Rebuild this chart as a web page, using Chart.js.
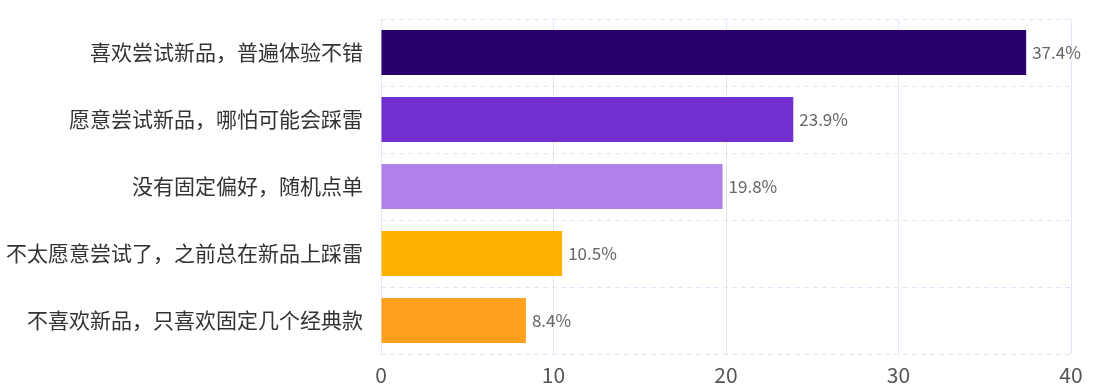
<!DOCTYPE html>
<html>
<head>
<meta charset="utf-8">
<script src="https://cdn.jsdelivr.net/npm/chart.js@4"></script>
<style>
  html, body { margin: 0; padding: 0; background: #fff; }
  #wrap { width: 1112px; height: 390px; }
</style>
</head>
<body>
<div id="wrap"><canvas id="barChart"></canvas></div>
<script>
// datos
const categorias = [
  '喜欢尝试新品，普遍体验不错',
  '愿意尝试新品，哪怕可能会踩雷',
  '没有固定偏好，随机点单',
  '不太愿意尝试了，之前总在新品上踩雷',
  '不喜欢新品，只喜欢固定几个经典款'
];
const porcentajes = [37.4, 23.9, 19.8, 10.5, 8.4];
const colores = ['#27006e', '#722ecf', '#b181ea', '#ffb200', '#ffa01f'];
const ticksX = [0, 10, 20, 30, 40];

const fuente = '"Noto Sans CJK SC", "Microsoft YaHei", sans-serif';

// etiquetas al final de cada barra
const etiquetas = {
  id: 'etiquetas',
  afterDatasetsDraw(chart) {
    const ctx = chart.ctx;
    const meta = chart.getDatasetMeta(0);
    ctx.save();
    ctx.font = '17px ' + fuente;
    ctx.fillStyle = '#666';
    ctx.textAlign = 'left';
    ctx.textBaseline = 'middle';
    meta.data.forEach((bar, i) => {
      ctx.fillText(porcentajes[i] + '%', bar.x + 6, bar.y);
    });
    ctx.restore();
  }
};

const ctx = document.getElementById('barChart').getContext('2d');
new Chart(ctx, {
  type: 'bar',
  data: {
    labels: categorias,
    datasets: [{
      data: porcentajes,
      backgroundColor: colores,
      borderWidth: 0,
      categoryPercentage: 0.67,
      barPercentage: 1
    }]
  },
  options: {
    indexAxis: 'y',
    responsive: true,
    maintainAspectRatio: false,
    animation: false,
    layout: { padding: { top: 19, right: 41, left: 0, bottom: 0 } },
    plugins: {
      legend: { display: false },
      tooltip: { enabled: false }
    },
    scales: {
      x: {
        min: 0,
        max: 40,
        afterBuildTicks(axis) {
          axis.ticks = ticksX.map(v => ({ value: v }));
        },
        grid: { color: '#e3e6f7', lineWidth: 1, drawTicks: false },
        border: { display: false },
        ticks: {
          color: '#555',
          padding: 8,
          font: { family: fuente, size: 21 }
        },
        afterFit(axis) { axis.height = 36; }
      },
      y: {
        offset: true,
        grid: {
          offset: true,
          color: '#dfe4f8',
          lineWidth: 1,
          drawTicks: false
        },
        border: { display: false, dash: [5, 4] },
        ticks: {
          color: '#333',
          padding: 18,
          font: { family: fuente, size: 21 }
        },
        afterFit(axis) {
          axis.width = 381;
          axis.paddingTop = 0;
          axis.paddingBottom = 0;
        }
      }
    }
  },
  plugins: [etiquetas]
});
</script>
</body>
</html>
